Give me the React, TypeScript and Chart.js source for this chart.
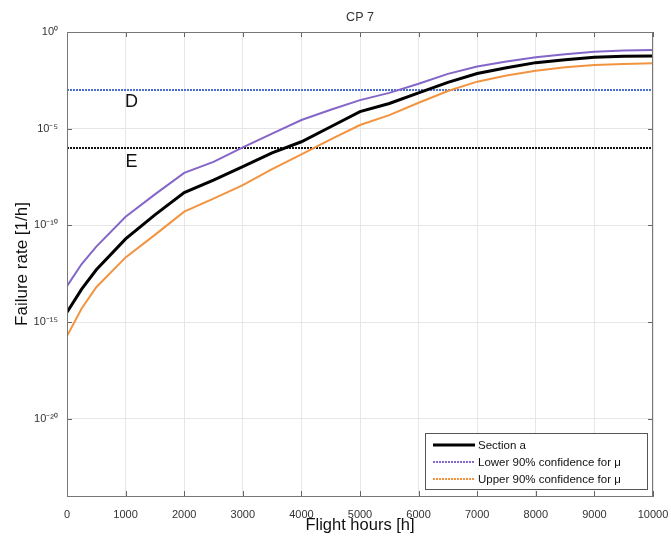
import React, { useEffect, useRef } from "react";
import { Chart, registerables } from "chart.js";

Chart.register(...registerables);

const hours = [0, 250, 500, 1000, 1500, 2000, 2500, 3000, 3500, 4000, 4500, 5000, 5500, 6000, 6500, 7000, 7500, 8000, 8500, 9000, 9500, 10000];
const sectionA = [3.2e-15, 5e-14, 5e-13, 2e-11, 3.5e-10, 4.9e-9, 2.2e-8, 1.1e-7, 5.6e-7, 2.1e-6, 1.26e-5, 7.6e-5, 2.0e-4, 7.1e-4, 2.5e-3, 7.1e-3, 1.4e-2, 2.6e-2, 3.7e-2, 4.9e-2, 5.5e-2, 5.8e-2];
const lower90 = [7.2e-14, 1e-12, 7.9e-12, 2.8e-10, 4e-9, 5.2e-8, 1.9e-7, 1.07e-6, 5.6e-6, 2.8e-5, 9.5e-5, 3.0e-4, 7.1e-4, 2.1e-3, 6.8e-3, 1.66e-2, 3.0e-2, 4.9e-2, 7.1e-2, 9.5e-2, 0.11, 0.117];
const upper90 = [1.86e-16, 5e-15, 6.3e-14, 2.2e-12, 3.2e-11, 5.1e-10, 2.4e-9, 1.2e-8, 8e-8, 4.7e-7, 2.8e-6, 1.55e-5, 5e-5, 2.2e-4, 8.9e-4, 2.7e-3, 5.6e-3, 1e-2, 1.5e-2, 1.95e-2, 2.2e-2, 2.4e-2];

const thresholdD = 1e-3;
const thresholdE = 1e-6;
const thresholdLabels = ["D", "E"];

const seriesLabels = ["Section a", "Lower 90% confidence for \u03bc", "Upper 90% confidence for \u03bc"];
const yTickValues = [1e-20, 1e-15, 1e-10, 1e-5, 1];
const yTickLabels = ["10\u207b\u00b2\u2070", "10\u207b\u00b9\u2075", "10\u207b\u00b9\u2070", "10\u207b\u2075", "10\u2070"];

const FONT = "'Liberation Sans', Arial, Helvetica, sans-serif";

const frameAndLabels = {
  id: "frameAndLabels",
  afterDraw(chart: any) {
    const ctx = chart.ctx;
    const { left, right, top, bottom } = chart.chartArea;
    const xs = chart.scales.x;
    const ys = chart.scales.y;
    ctx.save();
    ctx.strokeStyle = "#666";
    ctx.lineWidth = 1;
    ctx.beginPath();
    xs.ticks.forEach((t: any) => {
      const px = Math.round(xs.getPixelForValue(t.value)) + 0.5;
      ctx.moveTo(px, bottom);
      ctx.lineTo(px, bottom - 5);
      ctx.moveTo(px, top);
      ctx.lineTo(px, top + 5);
    });
    ys.ticks.forEach((t: any) => {
      const py = Math.round(ys.getPixelForValue(t.value)) + 0.5;
      ctx.moveTo(left, py);
      ctx.lineTo(left + 5, py);
      ctx.moveTo(right, py);
      ctx.lineTo(right - 5, py);
    });
    ctx.stroke();
    ctx.strokeStyle = "#777";
    ctx.strokeRect(left + 0.5, top + 0.5, right - left - 1, bottom - top);

    ctx.fillStyle = "#111";
    ctx.font = `18px ${FONT}`;
    ctx.textAlign = "center";
    ctx.textBaseline = "top";
    const lx = xs.getPixelForValue(1100);
    ctx.fillText(thresholdLabels[0], lx, ys.getPixelForValue(thresholdD) + 3);
    ctx.fillText(thresholdLabels[1], lx, ys.getPixelForValue(thresholdE) + 5);

    const bw = 222, bh = 56;
    const bx = right - 6 - bw;
    const by = bottom - 7 - bh;
    ctx.fillStyle = "#fff";
    ctx.fillRect(bx, by, bw, bh);
    ctx.strokeStyle = "#555";
    ctx.lineWidth = 1;
    ctx.strokeRect(bx + 0.5, by + 0.5, bw, bh);
    ctx.font = `11.5px ${FONT}`;
    ctx.textAlign = "left";
    ctx.textBaseline = "middle";
    for (let i = 0; i < 3; i++) {
      const ds = chart.data.datasets[i];
      const yy = by + 12 + i * 17;
      ctx.strokeStyle = ds.borderColor;
      ctx.lineWidth = ds.borderWidth;
      ctx.setLineDash(i === 0 ? [] : [2, 1]);
      ctx.beginPath();
      ctx.moveTo(bx + 8, yy);
      ctx.lineTo(bx + 50, yy);
      ctx.stroke();
      ctx.setLineDash([]);
      ctx.fillStyle = "#111";
      ctx.fillText(ds.label, bx + 53, yy + 1);
    }
    ctx.restore();
  },
};

export default function App() {
  const ref = useRef<HTMLCanvasElement | null>(null);
  useEffect(() => {
    if (!ref.current) return;
    const pts = (arr: number[]) => arr.map((v, i) => ({ x: hours[i], y: v }));
    const chart = new Chart(ref.current, {
      type: "line",
      data: {
        datasets: [
          { label: seriesLabels[0], data: pts(sectionA), borderColor: "#000000", borderWidth: 3 },
          { label: seriesLabels[1], data: pts(lower90), borderColor: "#8466c8", borderWidth: 2 },
          { label: seriesLabels[2], data: pts(upper90), borderColor: "#f2943f", borderWidth: 2 },
          { label: "D", data: [{ x: 0, y: thresholdD }, { x: 10000, y: thresholdD }], borderColor: "#4a6fd0", borderWidth: 2, borderDash: [2, 1] },
          { label: "E", data: [{ x: 0, y: thresholdE }, { x: 10000, y: thresholdE }], borderColor: "#111111", borderWidth: 2, borderDash: [2, 1] },
        ] as any,
      },
      options: {
        animation: false,
        responsive: false,
        maintainAspectRatio: false,
        elements: { point: { radius: 0 }, line: { tension: 0, fill: false } },
        layout: { padding: { left: 0, right: 18, top: 0, bottom: 0 } },
        plugins: {
          legend: { display: false },
          tooltip: { enabled: false },
          title: {
            display: true,
            text: "CP 7",
            fullSize: false,
            color: "#333",
            font: { family: FONT, size: 12.5, weight: "normal" },
            padding: { top: 10, bottom: 7 },
          },
        },
        scales: {
          x: {
            type: "linear",
            min: 0,
            max: 10000,
            ticks: {
              stepSize: 1000,
              color: "#333",
              font: { family: FONT, size: 11 },
              padding: 12,
              maxRotation: 0,
              callback: (v: any) => String(v),
            },
            grid: { color: "#e6e6e6", drawTicks: false },
            border: { display: true, color: "#777" },
            title: { display: true, text: "Flight hours [h]", color: "#111", font: { family: FONT, size: 16.5 }, padding: { top: 0, bottom: 1 } },
            afterFit: (s: any) => { s.height = 40; s.paddingLeft = 0; s.paddingRight = 0; },
          },
          y: {
            type: "logarithmic",
            min: 1e-24,
            max: 1,
            afterBuildTicks: (s: any) => { s.ticks = yTickValues.map((v) => ({ value: v })); },
            ticks: {
              color: "#333",
              font: { family: FONT, size: 11 },
              padding: 9,
              callback: (v: any) => { const i = yTickValues.indexOf(Number(v)); return i >= 0 ? yTickLabels[i] : ""; },
            },
            grid: { color: "#e6e6e6", drawTicks: false },
            border: { display: true, color: "#777" },
            title: { display: true, text: "Failure rate [1/h]", color: "#111", font: { family: FONT, size: 17 }, padding: { top: 12, bottom: 0 } },
            afterFit: (s: any) => { s.width = 67; s.paddingTop = 0; s.paddingBottom = 0; },
          },
        },
      },
      plugins: [frameAndLabels],
    } as any);
    return () => chart.destroy();
  }, []);
  return (
    <div style={{ position: "absolute", left: 0, top: 0, width: 671, height: 536, background: "#fff" }}>
      <canvas ref={ref} width={671} height={536} style={{ width: 671, height: 536, display: "block" }} />
    </div>
  );
}
